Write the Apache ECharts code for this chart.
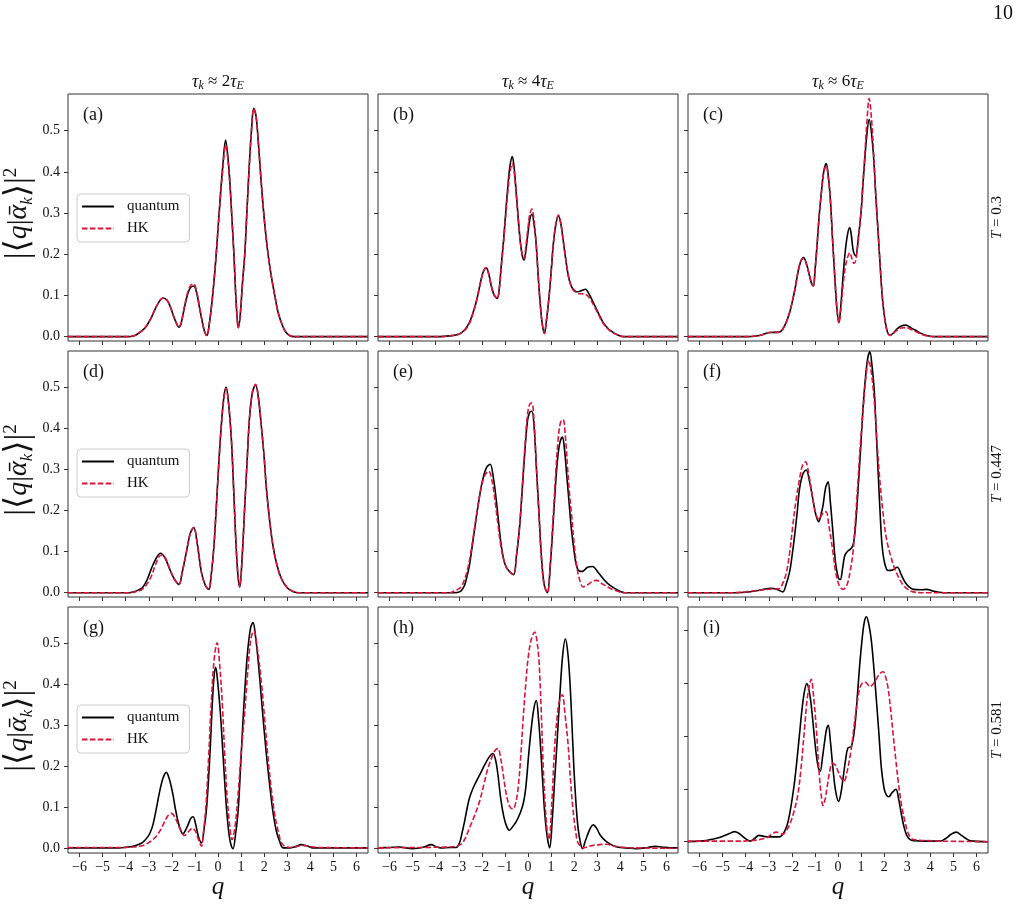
<!DOCTYPE html>
<html>
<head>
<meta charset="utf-8">
<script src="https://cdn.jsdelivr.net/npm/echarts@6/dist/echarts.min.js"></script>
<style>
  html, body { margin: 0; padding: 0; background: #fff; }
  #chart { width: 1019px; height: 907px; }
</style>
</head>
<body>
<div id="chart"></div>
<script>
// tick values
var qTicks = [-6, -5, -4, -3, -2, -1, 0, 1, 2, 3, 4, 5, 6];
var pTicks = [0, 0.1, 0.2, 0.3, 0.4, 0.5];
var pTicksI = [0, 0.1, 0.2, 0.3, 0.4];

var colTitles = ['{i|τ}{s|k} ≈ 2{i|τ}{s|E}', '{i|τ}{s|k} ≈ 4{i|τ}{s|E}', '{i|τ}{s|k} ≈ 6{i|τ}{s|E}'];
var rowTitles = ['{i|T} = 0.3', '{i|T} = 0.447', '{i|T} = 0.581'];
var panelLabels = ['(a)', '(b)', '(c)', '(d)', '(e)', '(f)', '(g)', '(h)', '(i)'];

// (a)
var quantumA = [[-6.5,0],[-4.0,0],[-3.6,0.003],[-3.3,0.014],[-3.1,0.026],[-2.9,0.045],[-2.75,0.064],[-2.55,0.085],[-2.38,0.094],[-2.2,0.088],[-2.05,0.07],[-1.9,0.046],[-1.78,0.03],[-1.7,0.023],[-1.6,0.032],[-1.45,0.072],[-1.3,0.106],[-1.18,0.12],[-1.05,0.123],[-0.92,0.105],[-0.8,0.07],[-0.68,0.036],[-0.58,0.012],[-0.48,0.003],[-0.38,0.03],[-0.25,0.09],[-0.12,0.17],[0.0,0.26],[0.1,0.34],[0.2,0.41],[0.33,0.477],[0.43,0.435],[0.52,0.37],[0.6,0.29],[0.69,0.2],[0.78,0.09],[0.88,0.022],[0.96,0.05],[1.06,0.13],[1.16,0.2],[1.25,0.3],[1.34,0.4],[1.45,0.5],[1.55,0.554],[1.65,0.535],[1.75,0.47],[1.84,0.4],[1.95,0.32],[2.05,0.26],[2.17,0.2],[2.3,0.15],[2.46,0.1],[2.6,0.06],[2.8,0.026],[2.95,0.01],[3.1,0.003],[3.3,0],[6.5,0]];
var hkA = [[-6.5,0],[-4.0,0],[-3.6,0.003],[-3.3,0.014],[-3.1,0.026],[-2.9,0.045],[-2.75,0.064],[-2.55,0.085],[-2.38,0.094],[-2.2,0.088],[-2.05,0.07],[-1.9,0.046],[-1.78,0.03],[-1.7,0.023],[-1.6,0.033],[-1.45,0.075],[-1.3,0.11],[-1.18,0.125],[-1.05,0.128],[-0.92,0.108],[-0.8,0.072],[-0.68,0.036],[-0.58,0.012],[-0.48,0.003],[-0.38,0.03],[-0.25,0.09],[-0.12,0.17],[0.0,0.26],[0.1,0.335],[0.2,0.4],[0.33,0.465],[0.43,0.43],[0.52,0.365],[0.6,0.29],[0.69,0.2],[0.78,0.09],[0.88,0.022],[0.96,0.05],[1.06,0.13],[1.16,0.2],[1.25,0.3],[1.34,0.4],[1.45,0.5],[1.55,0.554],[1.65,0.535],[1.75,0.47],[1.84,0.4],[1.95,0.32],[2.05,0.26],[2.17,0.2],[2.3,0.15],[2.46,0.1],[2.6,0.06],[2.8,0.026],[2.95,0.01],[3.1,0.003],[3.3,0],[6.5,0]];

// (b)
var quantumB = [[-6.5,0],[-3.8,0],[-3.4,0.002],[-3.0,0.006],[-2.75,0.016],[-2.54,0.034],[-2.4,0.055],[-2.25,0.083],[-2.13,0.113],[-2.03,0.139],[-1.92,0.16],[-1.81,0.167],[-1.7,0.152],[-1.59,0.123],[-1.46,0.1],[-1.33,0.093],[-1.24,0.12],[-1.16,0.172],[-1.08,0.22],[-1.01,0.269],[-0.94,0.32],[-0.87,0.366],[-0.78,0.415],[-0.68,0.437],[-0.6,0.41],[-0.51,0.35],[-0.42,0.285],[-0.33,0.228],[-0.24,0.195],[-0.17,0.186],[-0.08,0.215],[0.0,0.252],[0.08,0.285],[0.17,0.297],[0.27,0.27],[0.36,0.22],[0.45,0.14],[0.54,0.074],[0.62,0.03],[0.71,0.008],[0.8,0.04],[0.9,0.09],[1.0,0.155],[1.09,0.22],[1.2,0.27],[1.32,0.293],[1.42,0.275],[1.52,0.236],[1.63,0.19],[1.75,0.147],[1.86,0.125],[1.96,0.115],[2.07,0.11],[2.17,0.109],[2.33,0.112],[2.49,0.115],[2.65,0.103],[2.83,0.083],[3.05,0.057],[3.26,0.034],[3.5,0.018],[3.7,0.01],[3.9,0.004],[4.15,0],[6.5,0]];
var hkB = [[-6.5,0],[-3.8,0],[-3.4,0.002],[-3.0,0.006],[-2.75,0.015],[-2.54,0.032],[-2.4,0.053],[-2.25,0.082],[-2.13,0.112],[-2.03,0.138],[-1.92,0.16],[-1.81,0.167],[-1.7,0.152],[-1.59,0.123],[-1.46,0.1],[-1.33,0.093],[-1.24,0.118],[-1.16,0.168],[-1.08,0.215],[-1.01,0.262],[-0.94,0.31],[-0.87,0.355],[-0.78,0.4],[-0.68,0.42],[-0.6,0.4],[-0.51,0.345],[-0.42,0.285],[-0.33,0.23],[-0.24,0.197],[-0.17,0.19],[-0.08,0.225],[0.0,0.265],[0.08,0.298],[0.17,0.31],[0.27,0.278],[0.36,0.22],[0.45,0.14],[0.54,0.072],[0.62,0.03],[0.71,0.008],[0.8,0.04],[0.9,0.09],[1.0,0.155],[1.09,0.22],[1.2,0.272],[1.32,0.295],[1.42,0.276],[1.52,0.236],[1.63,0.19],[1.75,0.147],[1.86,0.124],[1.96,0.113],[2.07,0.108],[2.17,0.105],[2.33,0.104],[2.49,0.103],[2.65,0.095],[2.83,0.078],[3.05,0.054],[3.26,0.032],[3.5,0.017],[3.7,0.009],[3.9,0.004],[4.15,0],[6.5,0]];

// (c)
var quantumC = [[-6.5,0],[-4.0,0],[-3.4,0.003],[-2.97,0.01],[-2.54,0.011],[-2.4,0.018],[-2.25,0.034],[-2.1,0.058],[-1.96,0.09],[-1.85,0.12],[-1.74,0.155],[-1.62,0.182],[-1.49,0.192],[-1.36,0.175],[-1.23,0.147],[-1.15,0.13],[-1.07,0.123],[-0.99,0.165],[-0.91,0.22],[-0.82,0.29],[-0.72,0.35],[-0.62,0.4],[-0.51,0.42],[-0.42,0.39],[-0.33,0.333],[-0.24,0.24],[-0.14,0.147],[-0.05,0.07],[0.04,0.034],[0.13,0.08],[0.22,0.147],[0.32,0.21],[0.42,0.25],[0.51,0.265],[0.58,0.245],[0.65,0.212],[0.71,0.2],[0.77,0.196],[0.88,0.24],[1.01,0.31],[1.08,0.37],[1.16,0.43],[1.25,0.49],[1.35,0.527],[1.45,0.495],[1.55,0.43],[1.64,0.34],[1.74,0.252],[1.83,0.17],[1.93,0.09],[2.05,0.035],[2.15,0.01],[2.25,0.003],[2.4,0.009],[2.54,0.018],[2.74,0.026],[2.94,0.028],[3.15,0.022],[3.41,0.014],[3.6,0.008],[3.84,0.003],[4.2,0],[6.5,0]];
var hkC = [[-6.5,0],[-4.0,0],[-3.4,0.003],[-2.97,0.01],[-2.54,0.011],[-2.4,0.018],[-2.25,0.034],[-2.1,0.058],[-1.96,0.09],[-1.85,0.12],[-1.74,0.155],[-1.62,0.182],[-1.49,0.19],[-1.36,0.175],[-1.23,0.147],[-1.15,0.13],[-1.07,0.123],[-0.99,0.165],[-0.91,0.22],[-0.82,0.29],[-0.72,0.35],[-0.62,0.398],[-0.51,0.415],[-0.42,0.385],[-0.33,0.33],[-0.24,0.24],[-0.14,0.147],[-0.05,0.07],[0.04,0.034],[0.13,0.07],[0.22,0.125],[0.32,0.17],[0.43,0.195],[0.51,0.204],[0.6,0.19],[0.69,0.178],[0.77,0.185],[0.88,0.235],[1.01,0.31],[1.08,0.37],[1.16,0.44],[1.25,0.52],[1.35,0.578],[1.45,0.53],[1.55,0.44],[1.64,0.34],[1.74,0.252],[1.83,0.17],[1.93,0.09],[2.05,0.035],[2.15,0.01],[2.25,0.003],[2.4,0.008],[2.54,0.015],[2.74,0.021],[2.94,0.022],[3.15,0.018],[3.41,0.011],[3.6,0.006],[3.84,0.002],[4.2,0],[6.5,0]];

// (d)
var quantumD = [[-6.5,0],[-3.9,0],[-3.6,0.003],[-3.4,0.008],[-3.25,0.014],[-3.07,0.032],[-2.89,0.058],[-2.7,0.082],[-2.49,0.096],[-2.3,0.085],[-2.1,0.058],[-1.9,0.034],[-1.69,0.02],[-1.55,0.05],[-1.37,0.099],[-1.2,0.145],[-1.05,0.159],[-0.9,0.12],[-0.72,0.05],[-0.55,0.018],[-0.4,0.008],[-0.3,0.04],[-0.18,0.11],[-0.07,0.212],[0.04,0.32],[0.14,0.405],[0.25,0.475],[0.35,0.501],[0.46,0.46],[0.58,0.373],[0.68,0.25],[0.77,0.131],[0.86,0.045],[0.94,0.014],[1.05,0.09],[1.16,0.212],[1.27,0.33],[1.37,0.43],[1.5,0.49],[1.63,0.506],[1.75,0.475],[1.88,0.405],[2.0,0.33],[2.1,0.252],[2.24,0.175],[2.38,0.115],[2.55,0.068],[2.75,0.034],[3.0,0.012],[3.25,0.003],[3.5,0],[6.5,0]];
var hkD = [[-6.5,0],[-3.9,0],[-3.6,0.002],[-3.4,0.005],[-3.25,0.01],[-3.07,0.022],[-2.89,0.04],[-2.7,0.07],[-2.55,0.088],[-2.42,0.092],[-2.3,0.087],[-2.1,0.06],[-1.9,0.034],[-1.69,0.02],[-1.55,0.05],[-1.37,0.099],[-1.2,0.145],[-1.05,0.159],[-0.9,0.12],[-0.72,0.05],[-0.55,0.018],[-0.4,0.008],[-0.3,0.04],[-0.18,0.11],[-0.07,0.212],[0.04,0.32],[0.14,0.405],[0.25,0.472],[0.35,0.498],[0.46,0.46],[0.58,0.373],[0.68,0.25],[0.77,0.131],[0.86,0.045],[0.94,0.014],[1.05,0.09],[1.16,0.212],[1.27,0.33],[1.37,0.43],[1.5,0.492],[1.63,0.508],[1.75,0.477],[1.88,0.405],[2.0,0.33],[2.1,0.252],[2.24,0.175],[2.38,0.115],[2.55,0.068],[2.75,0.034],[3.0,0.012],[3.25,0.003],[3.5,0],[6.5,0]];

// (e)
var quantumE = [[-6.5,0],[-3.2,0],[-2.97,0.002],[-2.85,0.008],[-2.75,0.018],[-2.65,0.038],[-2.54,0.066],[-2.4,0.12],[-2.25,0.18],[-2.1,0.235],[-1.96,0.276],[-1.8,0.305],[-1.64,0.313],[-1.5,0.28],[-1.38,0.228],[-1.27,0.17],[-1.16,0.115],[-1.05,0.08],[-0.94,0.062],[-0.78,0.05],[-0.62,0.044],[-0.5,0.09],[-0.36,0.163],[-0.25,0.25],[-0.14,0.341],[-0.02,0.42],[0.08,0.44],[0.17,0.442],[0.27,0.4],[0.36,0.309],[0.47,0.2],[0.58,0.09],[0.7,0.02],[0.84,0.0],[0.97,0.07],[1.09,0.171],[1.19,0.26],[1.28,0.325],[1.38,0.365],[1.49,0.379],[1.58,0.35],[1.67,0.292],[1.78,0.22],[1.88,0.155],[2.0,0.1],[2.1,0.066],[2.22,0.053],[2.36,0.052],[2.58,0.062],[2.8,0.064],[3.03,0.05],[3.26,0.034],[3.5,0.02],[3.77,0.01],[4.0,0.003],[4.2,0],[6.5,0]];
var hkE = [[-6.5,0],[-3.4,0],[-3.2,0.004],[-3.04,0.008],[-2.9,0.014],[-2.8,0.025],[-2.65,0.05],[-2.5,0.09],[-2.35,0.145],[-2.2,0.2],[-2.05,0.25],[-1.88,0.285],[-1.7,0.296],[-1.55,0.27],[-1.42,0.22],[-1.3,0.165],[-1.18,0.115],[-1.05,0.08],[-0.92,0.06],[-0.78,0.05],[-0.62,0.045],[-0.5,0.09],[-0.36,0.165],[-0.25,0.26],[-0.14,0.35],[-0.02,0.435],[0.08,0.46],[0.17,0.462],[0.27,0.41],[0.36,0.31],[0.47,0.195],[0.58,0.085],[0.7,0.018],[0.84,0.0],[0.97,0.075],[1.09,0.185],[1.2,0.29],[1.3,0.37],[1.41,0.415],[1.52,0.422],[1.62,0.38],[1.72,0.3],[1.8,0.24],[1.88,0.195],[2.0,0.12],[2.1,0.07],[2.22,0.035],[2.39,0.014],[2.6,0.02],[2.8,0.028],[2.97,0.03],[3.2,0.022],[3.55,0.011],[3.9,0.003],[4.2,0],[6.5,0]];

// (f)
var quantumF = [[-6.5,0],[-4.5,0],[-4.0,0.001],[-3.4,0.006],[-2.9,0.011],[-2.61,0.007],[-2.39,0.002],[-2.25,0.02],[-2.1,0.05],[-1.99,0.09],[-1.88,0.139],[-1.77,0.195],[-1.67,0.252],[-1.52,0.29],[-1.38,0.299],[-1.23,0.27],[-1.09,0.228],[-0.96,0.19],[-0.83,0.173],[-0.74,0.19],[-0.65,0.212],[-0.54,0.255],[-0.43,0.27],[-0.33,0.22],[-0.22,0.147],[-0.1,0.07],[0.02,0.035],[0.1,0.032],[0.2,0.06],[0.29,0.09],[0.4,0.1],[0.51,0.105],[0.6,0.11],[0.68,0.123],[0.77,0.17],[0.87,0.252],[0.98,0.35],[1.09,0.454],[1.2,0.53],[1.3,0.575],[1.38,0.587],[1.47,0.555],[1.57,0.494],[1.65,0.4],[1.74,0.292],[1.82,0.2],[1.91,0.115],[2.03,0.07],[2.17,0.054],[2.35,0.055],[2.57,0.062],[2.73,0.045],[2.9,0.026],[3.08,0.014],[3.26,0.008],[3.6,0.007],[3.84,0.008],[4.05,0.005],[4.28,0.002],[4.6,0],[6.5,0]];
var hkF = [[-6.5,0],[-4.5,0],[-4.0,0.002],[-3.4,0.006],[-2.9,0.009],[-2.54,0.01],[-2.4,0.022],[-2.25,0.046],[-2.1,0.095],[-1.96,0.163],[-1.82,0.225],[-1.67,0.276],[-1.54,0.31],[-1.41,0.319],[-1.27,0.29],[-1.09,0.228],[-0.95,0.19],[-0.83,0.179],[-0.7,0.19],[-0.6,0.197],[-0.51,0.197],[-0.4,0.165],[-0.3,0.13],[-0.22,0.099],[-0.1,0.05],[0.05,0.018],[0.22,0.008],[0.35,0.015],[0.43,0.026],[0.52,0.05],[0.65,0.099],[0.76,0.18],[0.87,0.276],[0.98,0.37],[1.09,0.446],[1.2,0.52],[1.33,0.567],[1.46,0.53],[1.59,0.454],[1.7,0.36],[1.81,0.276],[1.95,0.195],[2.1,0.131],[2.28,0.09],[2.46,0.058],[2.65,0.035],[2.83,0.018],[3.05,0.007],[3.26,0.002],[3.6,0],[6.5,0]];

// (g)
var quantumG = [[-6.5,0.002],[-4.3,0.002],[-3.68,0.006],[-3.45,0.01],[-3.25,0.016],[-3.03,0.03],[-2.92,0.042],[-2.82,0.058],[-2.68,0.095],[-2.53,0.139],[-2.38,0.172],[-2.24,0.186],[-2.1,0.168],[-1.95,0.131],[-1.84,0.095],[-1.73,0.066],[-1.62,0.045],[-1.52,0.036],[-1.4,0.046],[-1.3,0.058],[-1.18,0.074],[-1.08,0.078],[-0.97,0.06],[-0.87,0.034],[-0.79,0.02],[-0.71,0.014],[-0.6,0.05],[-0.51,0.09],[-0.42,0.16],[-0.33,0.252],[-0.25,0.35],[-0.17,0.42],[-0.1,0.442],[-0.02,0.41],[0.1,0.333],[0.2,0.245],[0.29,0.163],[0.38,0.09],[0.48,0.034],[0.56,0.01],[0.65,0.0],[0.76,0.035],[0.87,0.09],[0.97,0.19],[1.08,0.309],[1.2,0.42],[1.3,0.49],[1.42,0.54],[1.52,0.551],[1.62,0.52],[1.72,0.47],[1.81,0.414],[1.95,0.32],[2.1,0.228],[2.24,0.155],[2.38,0.09],[2.52,0.045],[2.67,0.018],[2.82,0.002],[3.1,0.002],[3.35,0.005],[3.61,0.01],[3.85,0.007],[4.12,0.002],[6.5,0.002]];
var hkG = [[-6.5,0.003],[-4.3,0.003],[-3.68,0.004],[-3.25,0.008],[-3.03,0.014],[-2.82,0.022],[-2.6,0.036],[-2.38,0.058],[-2.2,0.078],[-2.02,0.086],[-1.85,0.075],[-1.66,0.05],[-1.45,0.032],[-1.3,0.04],[-1.11,0.05],[-0.97,0.042],[-0.87,0.026],[-0.72,0.006],[-0.62,0.045],[-0.51,0.115],[-0.4,0.23],[-0.29,0.357],[-0.17,0.46],[-0.04,0.502],[0.07,0.45],[0.19,0.349],[0.29,0.23],[0.39,0.131],[0.5,0.06],[0.61,0.022],[0.74,0.055],[0.87,0.131],[1.0,0.23],[1.16,0.333],[1.3,0.44],[1.42,0.51],[1.55,0.531],[1.7,0.49],[1.88,0.405],[2.03,0.31],[2.17,0.22],[2.32,0.14],[2.46,0.083],[2.62,0.04],[2.79,0.011],[3.1,0.003],[3.4,0.005],[3.68,0.008],[4.0,0.005],[4.4,0.003],[6.5,0.002]];

// (h)
var quantumH = [[-6.5,0.002],[-6.0,0.003],[-5.58,0.004],[-5.0,0],[-4.5,0.004],[-4.2,0.01],[-3.95,0.004],[-3.77,0.002],[-3.4,0.003],[-3.12,0.003],[-2.97,0.014],[-2.86,0.038],[-2.75,0.066],[-2.64,0.098],[-2.54,0.123],[-2.4,0.145],[-2.25,0.163],[-2.05,0.185],[-1.88,0.204],[-1.7,0.222],[-1.52,0.232],[-1.4,0.215],[-1.3,0.179],[-1.2,0.13],[-1.09,0.09],[-0.95,0.058],[-0.8,0.045],[-0.65,0.055],[-0.51,0.066],[-0.35,0.085],[-0.22,0.107],[-0.14,0.13],[-0.07,0.163],[0.03,0.23],[0.14,0.292],[0.25,0.34],[0.36,0.361],[0.45,0.32],[0.54,0.252],[0.63,0.17],[0.72,0.09],[0.83,0.03],[0.94,0.002],[1.05,0.07],[1.16,0.171],[1.27,0.27],[1.38,0.373],[1.5,0.47],[1.62,0.511],[1.72,0.48],[1.81,0.414],[1.9,0.31],[1.99,0.195],[2.08,0.11],[2.17,0.05],[2.27,0.015],[2.36,0.0],[2.49,0.02],[2.61,0.038],[2.72,0.052],[2.83,0.058],[2.97,0.05],[3.12,0.034],[3.3,0.022],[3.48,0.014],[3.75,0.006],[3.99,0.003],[4.71,0],[5.2,0.003],[5.51,0.006],[5.8,0.004],[6.16,0.002],[6.5,0.002]];
var hkH = [[-6.5,0.002],[-3.4,0.004],[-3.12,0.006],[-2.9,0.011],[-2.72,0.025],[-2.54,0.05],[-2.32,0.08],[-2.1,0.115],[-1.92,0.155],[-1.74,0.195],[-1.55,0.225],[-1.42,0.24],[-1.3,0.244],[-1.2,0.225],[-1.09,0.187],[-0.98,0.145],[-0.87,0.115],[-0.76,0.1],[-0.65,0.097],[-0.54,0.11],[-0.43,0.147],[-0.32,0.22],[-0.22,0.309],[-0.1,0.4],[0.0,0.462],[0.14,0.51],[0.29,0.528],[0.39,0.505],[0.48,0.454],[0.57,0.34],[0.65,0.212],[0.74,0.11],[0.82,0.05],[0.91,0.022],[1.03,0.11],[1.16,0.252],[1.3,0.34],[1.41,0.37],[1.49,0.375],[1.6,0.33],[1.74,0.252],[1.85,0.16],[1.96,0.09],[2.07,0.04],[2.17,0.014],[2.39,0.002],[2.6,0.005],[2.83,0.008],[3.1,0.01],[3.41,0.011],[3.7,0.007],[3.99,0.004],[4.57,0.002],[6.5,0.001]];

// (i)
var quantumI = [[-6.5,0],[-6.0,0.001],[-5.72,0.002],[-5.4,0.005],[-5.14,0.008],[-4.95,0.011],[-4.78,0.014],[-4.62,0.017],[-4.49,0.019],[-4.3,0.016],[-4.13,0.01],[-3.95,0.004],[-3.81,0.001],[-3.62,0.006],[-3.43,0.012],[-3.2,0.01],[-2.97,0.009],[-2.54,0.009],[-2.43,0.012],[-2.32,0.019],[-2.2,0.032],[-2.1,0.051],[-1.99,0.08],[-1.88,0.114],[-1.77,0.158],[-1.67,0.202],[-1.56,0.25],[-1.45,0.285],[-1.35,0.299],[-1.25,0.285],[-1.16,0.258],[-1.05,0.21],[-0.94,0.164],[-0.85,0.14],[-0.77,0.133],[-0.67,0.16],[-0.58,0.189],[-0.5,0.212],[-0.42,0.22],[-0.33,0.19],[-0.22,0.139],[-0.1,0.095],[0.03,0.076],[0.12,0.09],[0.22,0.12],[0.33,0.155],[0.43,0.177],[0.58,0.18],[0.72,0.214],[0.83,0.27],[0.94,0.334],[1.05,0.385],[1.14,0.415],[1.23,0.425],[1.34,0.41],[1.45,0.378],[1.56,0.325],[1.67,0.264],[1.78,0.2],[1.88,0.139],[2.0,0.1],[2.1,0.088],[2.2,0.085],[2.35,0.093],[2.51,0.099],[2.63,0.08],[2.75,0.051],[2.86,0.028],[2.97,0.013],[3.1,0.005],[3.26,0.002],[4.42,0.001],[4.6,0.004],[4.71,0.007],[4.9,0.014],[5.12,0.018],[5.32,0.013],[5.51,0.007],[5.7,0.002],[5.87,0.001],[6.5,0]];
var hkI = [[-6.5,0.001],[-4.2,0.001],[-3.85,0.002],[-3.55,0.003],[-3.12,0.007],[-2.9,0.013],[-2.68,0.018],[-2.5,0.016],[-2.39,0.014],[-2.25,0.02],[-2.1,0.032],[-1.92,0.055],[-1.74,0.089],[-1.6,0.14],[-1.45,0.214],[-1.32,0.275],[-1.16,0.307],[-1.05,0.27],[-0.94,0.214],[-0.87,0.165],[-0.8,0.12],[-0.72,0.085],[-0.65,0.068],[-0.56,0.08],[-0.48,0.101],[-0.37,0.13],[-0.25,0.148],[-0.12,0.145],[0.0,0.133],[0.13,0.12],[0.26,0.114],[0.38,0.13],[0.51,0.158],[0.62,0.19],[0.72,0.227],[0.83,0.262],[0.94,0.29],[1.07,0.3],[1.2,0.301],[1.38,0.293],[1.52,0.298],[1.67,0.308],[1.82,0.318],[1.96,0.321],[2.07,0.31],[2.17,0.29],[2.28,0.25],[2.39,0.202],[2.5,0.157],[2.61,0.114],[2.75,0.07],[2.9,0.038],[3.05,0.015],[3.26,0.004],[3.84,0.002],[4.42,0.001],[6.5,0]];

var quantumAll = [quantumA, quantumB, quantumC, quantumD, quantumE, quantumF, quantumG, quantumH, quantumI];
var hkAll = [hkA, hkB, hkC, hkD, hkE, hkF, hkG, hkH, hkI];

var serif = '"Liberation Serif", "DejaVu Serif", serif';
var colLeft = [68, 378, 688];
var rowTop = [94, 351, 607];
var rowH = [247, 246, 246];
var W = 300;
var spine = '#333';

var grids = [], xAxes = [], yAxes = [], series = [], legends = [], graphics = [];

for (var r = 0; r < 3; r++) {
  for (var c = 0; c < 3; c++) {
    var k = r * 3 + c;
    var special = (k === 8);
    grids.push({
      left: colLeft[c], top: rowTop[r], width: W, height: rowH[r],
      show: true, borderColor: spine, borderWidth: 1, backgroundColor: 'transparent'
    });
    xAxes.push({
      type: 'value', gridIndex: k, min: -6.5, max: 6.5, position: 'bottom',
      axisLine: { show: false, onZero: false },
      splitLine: { show: false },
      axisTick: { show: true, length: 4, lineStyle: { color: spine }, customValues: qTicks },
      axisLabel: {
        show: r === 2, margin: 7, fontFamily: serif, fontSize: 14, color: '#111',
        customValues: qTicks,
        formatter: function (v) { return v < 0 ? '\u2212' + (-v) : String(v); }
      },
      name: r === 2 ? 'q' : '',
      nameLocation: 'middle', nameGap: 13,
      nameTextStyle: { fontFamily: serif, fontStyle: 'italic', fontSize: 25, color: '#111' }
    });
    yAxes.push({
      type: 'value', gridIndex: k, position: 'left',
      min: special ? -0.0214 : -0.0105,
      max: special ? 0.4435 : 0.589,
      axisLine: { show: false, onZero: false },
      splitLine: { show: false },
      axisTick: { show: true, length: 4, lineStyle: { color: spine }, customValues: special ? pTicksI : pTicks },
      axisLabel: {
        show: c === 0, margin: 8, fontFamily: serif, fontSize: 14, color: '#111',
        customValues: pTicks,
        formatter: function (v) { return v.toFixed(1); }
      }
    });
    series.push({
      name: 'quantum', type: 'line', xAxisIndex: k, yAxisIndex: k,
      data: quantumAll[k], showSymbol: false, symbol: 'none', smooth: 0.35,
      lineStyle: { color: '#000', width: 1.6 }, itemStyle: { color: '#000' },
      clip: true, silent: true
    });
    series.push({
      name: 'HK', type: 'line', xAxisIndex: k, yAxisIndex: k,
      data: hkAll[k], showSymbol: false, symbol: 'none', smooth: 0.35,
      lineStyle: { color: '#DC143C', width: 1.6, type: [5.5, 2.4] }, itemStyle: { color: '#DC143C' },
      clip: true, silent: true
    });
    graphics.push({
      type: 'text', left: colLeft[c] + 15, top: rowTop[r] + 12,
      style: { text: panelLabels[k], font: '18px ' + serif, fill: '#111' }
    });
  }
  legends.push({
    left: 77, top: rowTop[r] + 100 + (r === 0 ? 0 : -2),
    orient: 'vertical', data: ['quantum', 'HK'],
    itemWidth: 32, itemHeight: 14, itemGap: 7,
    padding: [5, 10, 6, 4],
    borderColor: '#ccc', borderWidth: 1, borderRadius: 4, backgroundColor: '#fff',
    itemStyle: { opacity: 0 },
    textStyle: { fontFamily: serif, fontSize: 15, color: '#111', padding: [0, 0, 0, 8] },
    selectedMode: false
  });
  // y axis label
  graphics.push({
    type: 'text', x: 19, y: rowTop[r] + rowH[r] / 2 - 4, rotation: Math.PI / 2,
    style: {
      text: '{d||}{d|\u27E8}{i|q}{m||}{i|\u1FB1}{s|k}{d|\u27E9}{d||}{p|2}',
      font: '27px ' + serif, fill: '#111', align: 'center', verticalAlign: 'middle',
      rich: {
        d: { fontFamily: serif, fontSize: 34, lineHeight: 34, fill: '#111' },
        m: { fontFamily: serif, fontSize: 29, lineHeight: 34, fill: '#111' },
        i: { fontFamily: serif, fontSize: 28, fontStyle: 'italic', lineHeight: 34, fill: '#111' },
        s: { fontFamily: serif, fontSize: 17, fontStyle: 'italic', lineHeight: 14, verticalAlign: 'bottom', fill: '#111' },
        p: { fontFamily: serif, fontSize: 19, lineHeight: 14, verticalAlign: 'top', fill: '#111' }
      }
    }
  });
  // row label on the right
  graphics.push({
    type: 'text', x: 997, y: rowTop[r] + rowH[r] / 2, rotation: Math.PI / 2,
    style: {
      text: rowTitles[r], font: '15px ' + serif, fill: '#111', align: 'center', verticalAlign: 'middle',
      rich: { i: { fontFamily: serif, fontSize: 15, fontStyle: 'italic' } }
    }
  });
}

for (var c2 = 0; c2 < 3; c2++) {
  graphics.push({
    type: 'text', x: colLeft[c2] + W / 2, y: 82,
    style: {
      text: colTitles[c2], font: '17px ' + serif, fill: '#111', align: 'center', verticalAlign: 'middle',
      rich: {
        i: { fontFamily: serif, fontSize: 18, fontStyle: 'italic', lineHeight: 20 },
        s: { fontFamily: serif, fontSize: 12, fontStyle: 'italic', lineHeight: 10, verticalAlign: 'bottom' }
      }
    }
  });
}

graphics.push({
  type: 'text', x: 1003, y: 14,
  style: { text: '10', font: '20px ' + serif, fill: '#111', align: 'center', verticalAlign: 'middle' }
});

var chart = echarts.init(document.getElementById('chart'));
chart.setOption({
  animation: false,
  backgroundColor: '#fff',
  grid: grids,
  xAxis: xAxes,
  yAxis: yAxes,
  legend: legends,
  series: series,
  graphic: graphics
});
</script>
</body>
</html>
